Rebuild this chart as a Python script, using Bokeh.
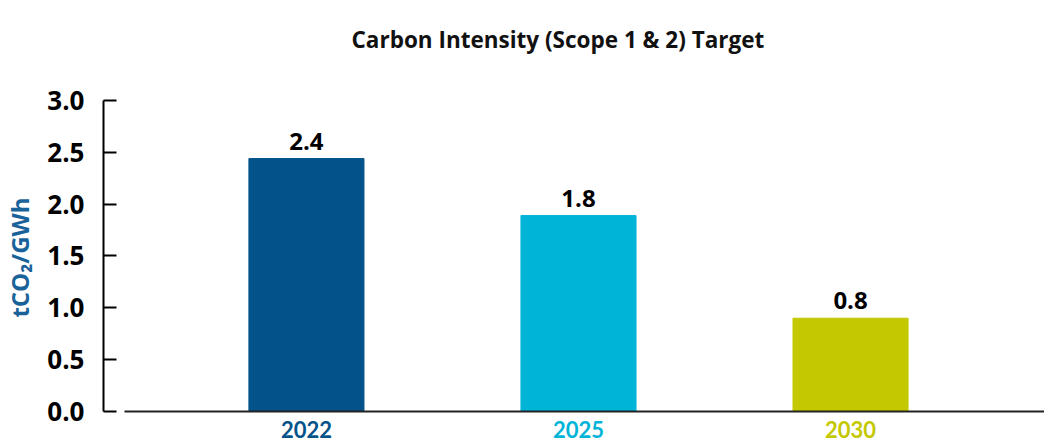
from bokeh.plotting import figure
from bokeh.models import ColumnDataSource, LabelSet, FixedTicker, Range1d, LinearAxis
from bokeh.core.properties import value
from bokeh.embed import file_html
from bokeh.resources import INLINE

title_text = "Carbon Intensity (Scope 1 & 2) Target"
y_title = "tCO\u2082/GWh"
years = ["2022", "2025", "2030"]
positions = [0, 1, 2]
values = [2.44, 1.89, 0.90]
value_labels = ["2.4", "1.8", "0.8"]
colors = ["#03538a", "#00b4d8", "#c4c800"]
y_ticks = [0.0, 0.5, 1.0, 1.5, 2.0, 2.5, 3.0]

src = ColumnDataSource(dict(x=positions, top=values, year=years, lab=value_labels,
                            color=colors, zero=[0] * len(years)))

p = figure(width=1044, height=443, output_backend="svg", toolbar_location=None,
           title=title_text, x_axis_location=None,
           x_range=Range1d(-0.746, 2.713), y_range=Range1d(-0.3087, 3.2797),
           min_border_left=103, min_border_right=0, min_border_top=71,
           min_border_bottom=0)
p.outline_line_color = None
p.grid.visible = False
p.background_fill_color = "white"
p.border_fill_color = "white"

p.title.align = "left"
p.title.vertical_align = "top"
p.title.offset = 248
p.title.standoff = 30
p.title.text_font = "Open Sans"
p.title.text_font_style = "bold"
p.title.text_font_size = "22.5px"
p.title.text_color = "#111111"

p.vbar(x="x", top="top", width=0.423, color="color", source=src)

# y axis
ya = p.yaxis[0]
ya.ticker = FixedTicker(ticks=y_ticks)
ya.bounds = (0, 3.0)
ya.major_label_overrides = {t: f"{t:.1f}" for t in y_ticks}
ya.major_tick_in = 13
ya.major_tick_out = 0
ya.minor_tick_in = 0
ya.minor_tick_out = 0
ya.axis_line_width = 2
ya.axis_line_color = "black"
ya.major_tick_line_width = 2
ya.major_tick_line_color = "black"
ya.major_label_standoff = 19
ya.major_label_text_font = "Open Sans"
ya.major_label_text_font_style = "bold"
ya.major_label_text_font_size = "26px"
ya.major_label_text_color = "black"
ya.axis_label = y_title
ya.axis_label_text_font = "Open Sans"
ya.axis_label_text_font_style = "bold"
ya.axis_label_text_font_size = "24px"
ya.axis_label_text_color = "#1a639a"
ya.axis_label_standoff = 8

# x axis (baseline at y = 0)
xa = LinearAxis(fixed_location=0, ticker=FixedTicker(ticks=[]))
xa.minor_tick_in = 0
xa.minor_tick_out = 0
xa.major_tick_in = 0
xa.major_tick_out = 0
xa.axis_line_width = 2
xa.axis_line_color = "#222222"
xa.bounds = (-0.669, 2.713)
xa.major_label_text_font_size = "0px"
p.add_layout(xa, "below")

p.add_layout(LabelSet(x="x", y="top", text="lab", source=src, y_offset=9,
                      text_align="center", text_baseline="bottom",
                      text_font=value("Open Sans"), text_font_style="bold",
                      text_font_size="24px", text_color="black"))
p.add_layout(LabelSet(x="x", y="zero", text="year", source=src, y_offset=-18,
                      text_align="center", text_baseline="middle",
                      text_font=value("Lato"), text_font_style="bold",
                      text_font_size="22px", text_color="color"))

open("out.html", "w").write(file_html(p, INLINE))
